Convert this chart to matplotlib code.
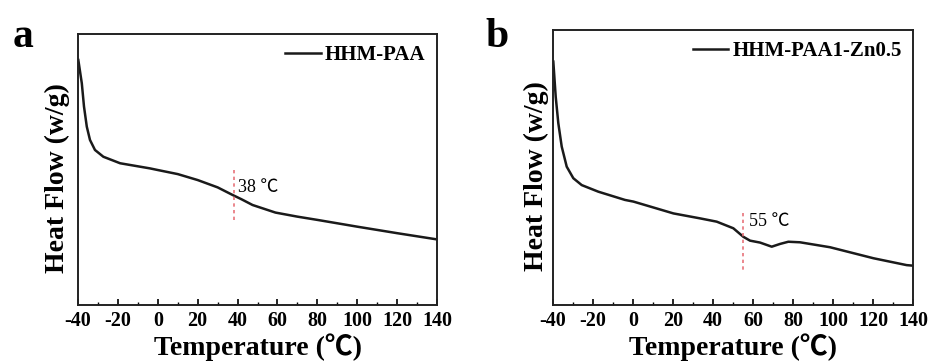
import matplotlib
matplotlib.use("Agg")
import matplotlib.pyplot as plt
from matplotlib.ticker import MultipleLocator

FONT = ['Liberation Serif', 'Noto Sans CJK SC', 'DejaVu Sans']
plt.rcParams['font.family'] = FONT
plt.rcParams['axes.unicode_minus'] = False

# Panel a: HHM-PAA
temp_a = [-39.85, -38.1, -37.0, -35.6, -34.0, -31.5, -27.3, -18.9, -3.9, 0, 10, 20, 30,
          37.5, 42, 47.5, 59, 70, 80, 100, 120, 140]
flow_a = [90.4, 81.8, 73.2, 65.8, 60.9, 57.2, 54.7, 52.3, 50.4, 49.8, 48.3, 46.1, 43.4,
          40.6, 39.0, 36.9, 34.1, 32.6, 31.4, 28.9, 26.5, 24.2]
label_a = "HHM-PAA"
tg_a = 38
tg_a_span = [49.8, 31.4]

# Panel b: HHM-PAA1-Zn0.5
temp_b = [-39.85, -38.65, -37.35, -35.65, -33.15, -29.85, -25.65, -17.35, -4, 0.2, 20.2,
          33.5, 41.85, 50.15, 55.15, 58.5, 63.5, 69.35, 73.5, 77.65, 83.5, 91.85, 98.5,
          120.2, 136.8, 140]
flow_b = [88.5, 75.7, 66.1, 57.6, 50.3, 46.1, 43.6, 41.2, 38.2, 37.6, 33.3,
          31.5, 30.3, 27.9, 24.8, 23.4, 22.7, 21.2, 22.2, 23.0, 22.8, 21.8, 21.0,
          17.0, 14.5, 14.3]
label_b = "HHM-PAA1-Zn0.5"
tg_b = 55
tg_b_span = [33.5, 12.7]

xticks = [-40, -20, 0, 20, 40, 60, 80, 100, 120, 140]

fig = plt.figure(figsize=(9.31, 3.63), dpi=100)
ax_a = fig.add_axes([0.0838, 0.1598, 0.3856, 0.7466])
ax_b = fig.add_axes([0.594, 0.1598, 0.3867, 0.7576])

panels = [
    (ax_a, temp_a, flow_a, label_a, tg_a, tg_a_span, 43.2, 40.0, -0.022),
    (ax_b, temp_b, flow_b, label_b, tg_b, tg_b_span, 30.3, 58.0, -0.01),
]

for ax, t, f, lab, tg, span, ty, tx, ylx in panels:
    ax.plot(t, f, color='#1a1a1a', lw=1.8, label=lab)
    ax.plot([tg, tg], span, color='#e8737a', lw=1.2, ls=(0, (2, 2)))
    ax.text(tx, ty, f"{tg} ℃", fontsize=13, va='center', ha='left', family=FONT)
    ax.set_xlim(-40, 140)
    ax.set_ylim(0, 100)
    ax.set_xticks(xticks)
    ax.xaxis.set_minor_locator(MultipleLocator(10))
    ax.set_yticks([])
    ax.tick_params(axis='x', which='major', direction='in', length=4, width=1.2,
                   labelsize=14.5, pad=4)
    ax.tick_params(axis='x', which='minor', direction='in', length=2.5, width=1.0)
    for lbl in ax.get_xticklabels():
        lbl.set_fontweight('bold')
        lbl.set_family(FONT)
    for s in ax.spines.values():
        s.set_linewidth(1.4)
        s.set_color('#222222')
    ax.set_xlabel("Temperature (℃)", fontsize=20, fontweight='bold', labelpad=2,
                  family=FONT)
    ax.set_ylabel("Heat Flow (w/g)", fontsize=20, fontweight='bold', family=FONT)
    ax.yaxis.set_label_coords(ylx, 0.47)
    ax.legend(loc='upper right', frameon=False, handlelength=1.7,
              handletextpad=0.2, borderaxespad=0.15,
              prop={'family': FONT, 'weight': 'bold', 'size': 15})

fig.text(0.014, 0.87, "a", fontsize=30, fontweight='bold', family=FONT)
fig.text(0.521, 0.87, "b", fontsize=30, fontweight='bold', family=FONT)

fig.savefig("out.png", dpi=100)
